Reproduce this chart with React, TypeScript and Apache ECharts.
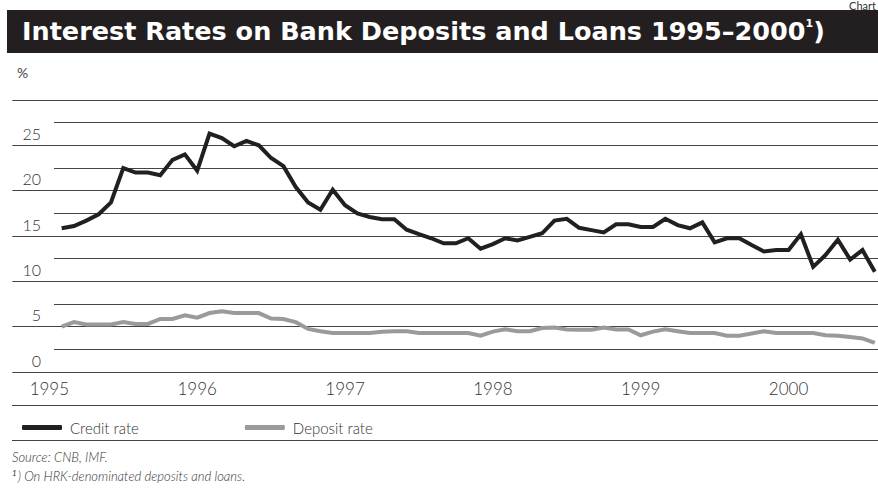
import { useEffect, useRef } from 'react';
import * as echarts from 'echarts';

// ---- data ----
const firstYear = 1995;
const leadMonths = 4; // empty months left of Jan 1995 so the grid reaches the left tick marks
const creditRate = [
  15.85, 16.1, 16.7, 17.4, 18.7, 22.5, 22.0, 22.0, 21.7, 23.4, 24.0, 22.2,
  26.3, 25.8, 24.9, 25.5, 25.0, 23.6, 22.7, 20.4, 18.7, 17.9, 20.1, 18.4,
  17.5, 17.1, 16.85, 16.85, 15.7, 15.2, 14.75, 14.2, 14.2, 14.75, 13.6, 14.1,
  14.75, 14.5, 14.9, 15.3, 16.7, 16.9, 15.9, 15.65, 15.4, 16.3, 16.3, 16.0,
  16.0, 16.9, 16.2, 15.85, 16.5, 14.3, 14.75, 14.75, 14.0, 13.3, 13.45, 13.45,
  15.2, 11.6, 12.9, 14.6, 12.4, 13.45, 11.05,
];
const depositRate = [
  5.0, 5.5, 5.25, 5.25, 5.25, 5.5, 5.3, 5.3, 5.85, 5.85, 6.25, 6.0,
  6.5, 6.7, 6.5, 6.5, 6.5, 5.9, 5.85, 5.5, 4.75, 4.5, 4.3, 4.3,
  4.3, 4.3, 4.45, 4.5, 4.5, 4.3, 4.3, 4.3, 4.3, 4.3, 4.0, 4.45,
  4.7, 4.5, 4.5, 4.85, 4.9, 4.7, 4.65, 4.65, 4.9, 4.7, 4.7, 4.05,
  4.45, 4.7, 4.5, 4.3, 4.3, 4.3, 4.0, 4.0, 4.25, 4.5, 4.3, 4.3,
  4.3, 4.3, 4.05, 4.0, 3.85, 3.7, 3.2,
];
const yLabelValues = [0, 5, 10, 15, 20, 25];
const seriesNames = ['Credit rate', 'Deposit rate'];
const titleText = 'Interest Rates on Bank Deposits and Loans 1995–2000';
const sourceText = 'Source: CNB, IMF.';
const noteText = ') On HRK-denominated deposits and loans.';

function monthKey(offset: number) {
  const y = firstYear + Math.floor(offset / 12);
  const m = ((offset % 12) + 12) % 12;
  return `${y}-${String(m + 1).padStart(2, '0')}`;
}

const categories: string[] = [];
for (let i = -leadMonths; i < creditRate.length + 1; i++) categories.push(monthKey(i));
const pad = (arr: number[]) => [
  ...Array(leadMonths).fill(null),
  ...arr,
  null,
];

const FONT = 'Lato, "Open Sans", sans-serif';
const INK = '#231f20';
const STEP = 12.32;

export default function App() {
  const ref = useRef<HTMLDivElement>(null);
  useEffect(() => {
    if (!ref.current) return;
    const chart = echarts.init(ref.current, undefined, { renderer: 'svg' });
    chart.setOption({
      animation: false,
      backgroundColor: '#ffffff',
      textStyle: { fontFamily: FONT },
      grid: [
        { left: 12.4, width: STEP * (categories.length - 1), top: 100, bottom: 116, outerBoundsMode: 'none', containLabel: false },
        { left: 54, right: 0, top: 100, bottom: 116, outerBoundsMode: 'none', containLabel: false },
      ],
      xAxis: [
        {
          type: 'category',
          gridIndex: 0,
          data: categories,
          boundaryGap: false,
          axisLine: { show: false },
          axisTick: { show: false },
          splitLine: { show: false },
          axisLabel: {
            interval: (_i: number, v: string) => v.endsWith('-12'),
            formatter: (v: string) => String(Number(v.slice(0, 4)) + 1),
            fontSize: 17,
            color: '#333',
            margin: 8,
            fontFamily: FONT,
            fontWeight: 300,
          },
        },
        { type: 'value', gridIndex: 1, show: false, min: 0, max: 1 },
      ],
      yAxis: [
        {
          type: 'value',
          gridIndex: 0,
          min: 0,
          max: 30,
          interval: 5,
          axisLine: { show: false },
          axisTick: { show: false },
          axisLabel: { show: false },
          splitLine: { show: true, lineStyle: { color: '#444', width: 1 } },
        },
        {
          type: 'value',
          gridIndex: 1,
          min: 0,
          max: 30,
          interval: 2.5,
          axisLine: { show: false },
          axisTick: { show: false },
          splitLine: { show: true, lineStyle: { color: '#444', width: 1 } },
          axisLabel: {
            margin: 13,
            fontSize: 16,
            color: '#333',
            fontFamily: FONT,
            fontWeight: 300,
            verticalAlign: 'bottom',
            lineHeight: 24,
            formatter: (v: number) => (yLabelValues.includes(v) ? String(v) : ''),
          },
        },
      ],
      legend: {
        left: 17,
        top: 415,
        itemWidth: 40,
        itemHeight: 5,
        itemGap: 106,
        icon: 'roundRect',
        data: seriesNames,
        textStyle: { fontSize: 15, color: '#333', fontFamily: FONT, fontWeight: 300, padding: [0, 0, 0, 3] },
      },
      series: [
        {
          name: seriesNames[1],
          type: 'line',
          xAxisIndex: 0,
          yAxisIndex: 0,
          data: pad(depositRate),
          symbol: 'none',
          color: '#9a9a9a',
          lineStyle: { color: '#9a9a9a', width: 4, join: 'miter' },
          z: 3,
        },
        {
          name: seriesNames[0],
          type: 'line',
          xAxisIndex: 0,
          yAxisIndex: 0,
          data: pad(creditRate),
          symbol: 'none',
          color: INK,
          lineStyle: { color: INK, width: 4, join: 'miter' },
          z: 4,
        },
      ],
      graphic: [
        {
          type: 'text',
          right: 2,
          top: 0,
          style: { text: 'Chart', fontSize: 11, fill: '#333', fontFamily: FONT },
        },
        {
          type: 'rect',
          shape: { x: 7, y: 10, width: 880, height: 43 },
          style: { fill: INK },
          z: 10,
        },
        {
          type: 'text',
          x: 22,
          y: 31,
          z: 11,
          style: {
            text: titleText + '{s|1})',
            fill: '#ffffff',
            fontSize: 25.5,
            fontWeight: 'bold',
            fontFamily: '"DejaVu Sans", sans-serif',
            verticalAlign: 'middle',
            rich: {
              s: { fontSize: 11, fontWeight: 'bold', fill: '#ffffff', fontFamily: '"DejaVu Sans", sans-serif', verticalAlign: 'top', padding: [0, 0, 12, 0] },
            },
          },
        },
        {
          type: 'text',
          x: 17,
          y: 72,
          style: { text: '%', fontSize: 14, fill: '#444', fontFamily: FONT, verticalAlign: 'middle' },
        },
        {
          type: 'line',
          shape: { x1: 12, y1: 405.5, x2: 878, y2: 405.5 },
          style: { stroke: '#444', lineWidth: 1 },
        },
        {
          type: 'line',
          shape: { x1: 12, y1: 440.5, x2: 878, y2: 440.5 },
          style: { stroke: '#444', lineWidth: 1 },
        },
        {
          type: 'text',
          x: 12,
          y: 457,
          style: { text: sourceText, fontSize: 13, fontStyle: 'italic', fill: '#333', fontFamily: FONT, fontWeight: 300, verticalAlign: 'middle' },
        },
        {
          type: 'text',
          x: 12,
          y: 476,
          style: {
            text: '{s|1}' + noteText,
            fontSize: 13,
            fontStyle: 'italic',
            fill: '#333',
            fontFamily: FONT,
            fontWeight: 300,
            verticalAlign: 'middle',
            rich: { s: { fontSize: 8, fontStyle: 'italic', fill: '#333', fontFamily: FONT, padding: [0, 1, 6, 0] } },
          },
        },
      ],
    });
    return () => chart.dispose();
  }, []);
  return <div ref={ref} style={{ position: 'fixed', left: 0, top: 0, width: 878, height: 488 }} />;
}
